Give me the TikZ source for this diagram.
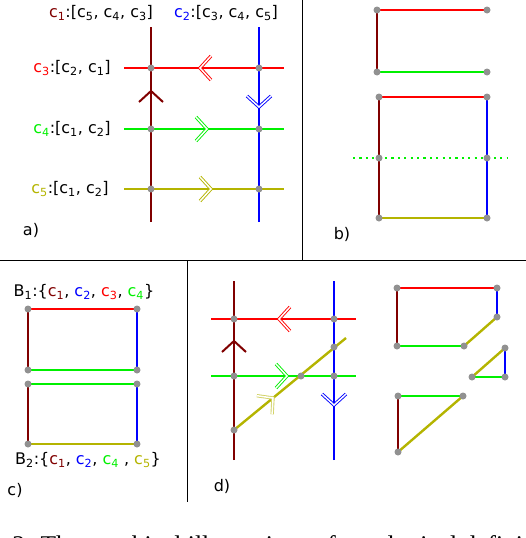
\documentclass[tikz,border=0pt]{standalone}
\usepackage{fontspec}
\setmainfont{DejaVu Sans}
\newfontfamily\capfont{Liberation Serif}
\definecolor{cone}{RGB}{128,0,0}
\definecolor{ctwo}{RGB}{0,0,255}
\definecolor{cthree}{RGB}{255,0,0}
\definecolor{cfour}{RGB}{0,240,0}
\definecolor{cfive}{RGB}{180,180,0}
\definecolor{dotgray}{RGB}{145,145,145}
\newcommand{\cl}[2]{\textcolor{#1}{c\textsubscript{#2}}}
\newcommand{\cb}[1]{c\textsubscript{#1}}
\tikzset{
  lab/.style={font=\fontsize{16}{19}\selectfont, inner sep=0pt},
  hollow/.style={double=white, double distance=1.5pt, line width=0.9pt, line cap=butt},
  chev/.pic={\draw[line width=2pt] (-11,-12) -- (0,0) -- (-11,12);},
  hchev/.pic={\draw[hollow] (-11,-12) -- (0,0) -- (-11,12);},
}
\begin{document}
\begin{tikzpicture}[x=1pt, y=-1pt, line width=2.6pt]
\useasboundingbox (0,0) rectangle (526,538);

% frames
\draw[line width=0.8pt] (302,0) -- (302,260) (0,260) -- (526,260) (187,260) -- (187,502);

% a)
\begin{scope}
 \coordinate (a1t) at (151,27); \coordinate (a1b) at (151,222);
 \coordinate (a2t) at (259,27); \coordinate (a2b) at (259,222);
 \foreach \n/\y in {3/68,4/129,5/189} {
  \coordinate (a\n l) at (124,\y); \coordinate (a\n r) at (284,\y);
  \coordinate (a\n x) at (151,\y); \coordinate (a\n y) at (259,\y);
 }
\draw[cone] (a1b) -- (a1t);
\draw[ctwo] (a2b) -- (a2t);
\draw[cthree] (a3l) -- (a3r);
\draw[cfour] (a4l) -- (a4r);
\draw[cfive] (a5l) -- (a5r);
\foreach \p in {a3x,a3y,a4x,a4y,a5x,a5y} \fill[dotgray] (\p) circle (3.5);
\pic[cthree, rotate=180] at (200,68) {hchev};
\pic[cone, rotate=90] at (151,91) {chev};
\pic[ctwo, rotate=-90] at (259,107) {hchev};
\pic[cfour] at (207,129) {hchev};
\pic[cfive] at (211,189) {hchev};
\node[lab] (la1) at (101,13) {\cl{cone}{1}:[\cb5, \cb4, \cb3]};
\node[lab] (la2) at (226,13) {\cl{ctwo}{2}:[\cb3, \cb4, \cb5]};
\node[lab, anchor=east] (la3) at (112,68) {\cl{cthree}{3}:[\cb2, \cb1]};
\node[lab, anchor=east] (la4) at (112,129) {\cl{cfour}{4}:[\cb1, \cb2]};
\node[lab, anchor=east] (la5) at (110,189) {\cl{cfive}{5}:[\cb1, \cb2]};
\node[lab] (ta) at (31,230) {a)};
\end{scope}

% b)
\begin{scope}[line width=2pt]
 \coordinate (b1) at (377,10); \coordinate (b2) at (487,10);
 \coordinate (b3) at (377,72); \coordinate (b4) at (487,72);
 \coordinate (b5) at (379,97); \coordinate (b6) at (487,97);
 \coordinate (b7) at (379,158); \coordinate (b8) at (487,158);
 \coordinate (b9) at (379,218); \coordinate (b10) at (487,218);
 \coordinate (bl) at (353,158); \coordinate (br) at (507,158);
\draw[cthree] (b1) -- (b2);
\draw[cone, line width=1.4pt] (b1) -- (b3);
\draw[cfour] (b3) -- (b4);
\draw[cthree] (b5) -- (b6);
\draw[cone] (b5) -- (b9);
\draw[ctwo] (b6) -- (b10);
\draw[cfive] (b9) -- (b10);
\draw[cfour, line width=2.2pt, dash pattern=on 2.2pt off 4.2pt, line cap=butt] (bl) -- (br);
\foreach \p in {b1,b2,b3,b4,b5,b6,b7,b8,b9,b10} \fill[dotgray] (\p) circle (3.5);
\node[lab] (tb) at (342,234) {b)};
\end{scope}

% c)
\begin{scope}[line width=2pt]
 \coordinate (c1) at (28,309); \coordinate (c2) at (137,309);
 \coordinate (c3) at (28,370); \coordinate (c4) at (137,370);
 \coordinate (c5) at (28,384); \coordinate (c6) at (137,384);
 \coordinate (c7) at (28,444); \coordinate (c8) at (137,444);
\draw[cthree] (c1) -- (c2);
\draw[cone, line width=1.4pt] (c1) -- (c3) (c5) -- (c7);
\draw[ctwo, line width=1.4pt] (c2) -- (c4) (c6) -- (c8);
\draw[cfour] (c3) -- (c4) (c5) -- (c6);
\draw[cfive] (c7) -- (c8);
\foreach \p in {c1,c2,c3,c4,c5,c6,c7,c8} \fill[dotgray] (\p) circle (3.5);
\node[lab] (lb1) at (84,292) {B\textsubscript{1}:\{\cl{cone}{1}, \cl{ctwo}{2}, \cl{cthree}{3}, \cl{cfour}{4}\}};
\node[lab] (lb2) at (88,460) {B\textsubscript{2}:\{\cl{cone}{1}, \cl{ctwo}{2}, \cl{cfour}{4} , \cl{cfive}{5}\}};
\node[lab] (tc) at (15,490) {c)};
\end{scope}

% d)
\begin{scope}[line width=2.4pt]
 \coordinate (d1t) at (234,281); \coordinate (d1b) at (234,460);
 \coordinate (d2t) at (334,281); \coordinate (d2b) at (334,460);
 \coordinate (d3l) at (211,319); \coordinate (d3r) at (356,319);
 \coordinate (d4l) at (211,376); \coordinate (d4r) at (356,376);
 \coordinate (d5a) at (234,430); \coordinate (d5b) at (346,338);
 \coordinate (d13) at (234,319); \coordinate (d23) at (334,319);
 \coordinate (d25) at (334,347); \coordinate (d14) at (234,376);
 \coordinate (d45) at (301,376); \coordinate (d24) at (334,376);
\draw[cone] (d1b) -- (d1t);
\draw[ctwo] (d2b) -- (d2t);
\draw[cthree] (d3l) -- (d3r);
\draw[cfour] (d4l) -- (d4r);
\draw[cfive] (d5a) -- (d5b);
\foreach \p in {d13,d23,d25,d14,d45,d24,d5a} \fill[dotgray] (\p) circle (3.5);
\pic[cthree, rotate=180] at (279,319) {hchev};
\pic[cone, rotate=90] at (234,341) {chev};
\pic[cfour] at (287,376) {hchev};
\pic[ctwo, rotate=-90] at (334,405) {hchev};
\pic[cfive!60, rotate=39.4] at (273,398) {hchev};

 \coordinate (e1) at (397,288); \coordinate (e2) at (497,288);
 \coordinate (e3) at (497,317); \coordinate (e4) at (464,346);
 \coordinate (e5) at (397,346);
 \coordinate (f1) at (505,348); \coordinate (f2) at (505,377);
 \coordinate (f3) at (472,377);
 \coordinate (g1) at (398,396); \coordinate (g2) at (463,396);
 \coordinate (g3) at (398,452);
\draw[cthree, line width=2pt] (e1) -- (e2);
\draw[ctwo, line width=2pt] (e2) -- (e3);
\draw[cfive] (e3) -- (e4);
\draw[cfour, line width=2pt] (e4) -- (e5);
\draw[cone] (e5) -- (e1);
\draw[cfive] (f3) -- (f1);
\draw[ctwo, line width=2pt] (f1) -- (f2);
\draw[cfour] (f2) -- (f3);
\draw[cfour] (g1) -- (g2);
\draw[cfive] (g2) -- (g3);
\draw[cone] (g3) -- (g1);
\foreach \p in {e1,e2,e3,e4,e5,f1,f2,f3,g1,g2,g3} \fill[dotgray] (\p) circle (3.5);
\node[lab] (td) at (222,486) {d)};
\end{scope}

% caption, cut off by the page edge as in the source
\node[anchor=base west, inner sep=0pt, font=\capfont\fontsize{25.5}{30}\selectfont] (cap) at (11,553)
 {2: The graphical illustrations of topological definitions};
\end{tikzpicture}
\end{document}
